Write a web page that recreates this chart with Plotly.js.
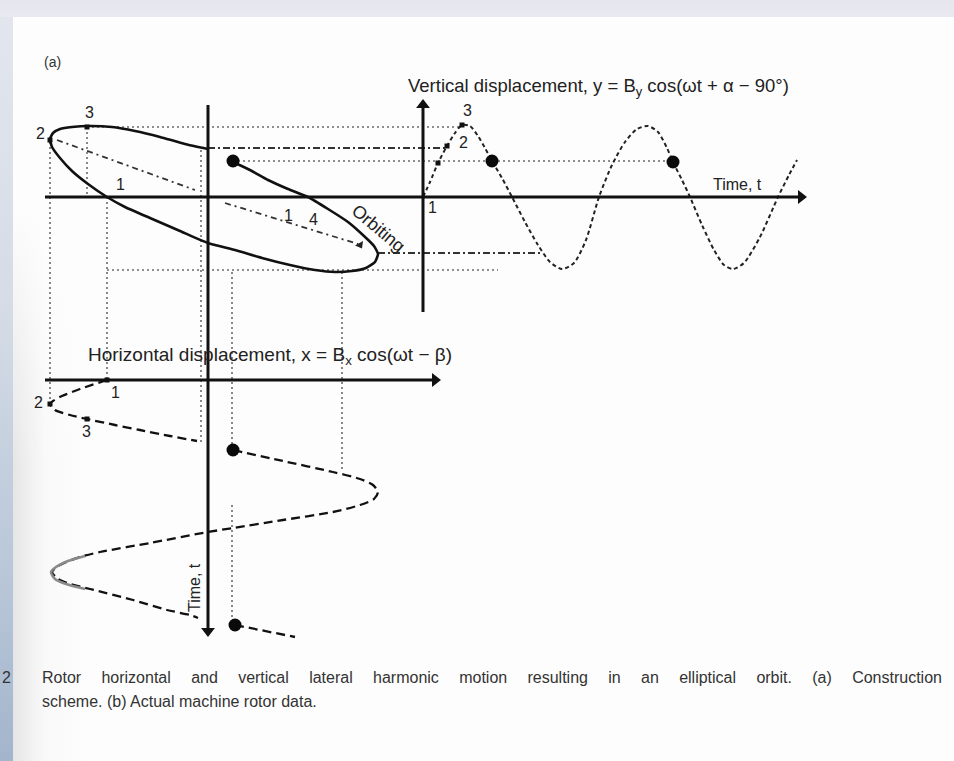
<!DOCTYPE html>
<html>
<head>
<meta charset="utf-8">
<script src="https://cdn.plot.ly/plotly-3.0.1.min.js"></script>
<style>
  html, body { margin: 0; padding: 0; width: 954px; height: 761px; overflow: hidden; }
  body {
    position: relative;
    background:
      linear-gradient(#e6e6ef, #e9e9f1) left top / 954px 17px no-repeat,
      linear-gradient(to bottom, #e3e6ee 0%, #d5dce6 40%, #b9c7d8 75%, #a3b5cc 100%) left top / 13px 761px no-repeat,
      #fdfdfd;
  }
  /* grey shading of the page near the spine, fading in towards the bottom */
  #shade {
    position: absolute; left: 13px; top: 17px; width: 80px; height: 744px;
    background: linear-gradient(to right, rgba(210,210,212,0.55), rgba(240,240,240,0.25) 40%, rgba(255,255,255,0) 100%);
    -webkit-mask-image: linear-gradient(to bottom, rgba(0,0,0,0) 25%, rgba(0,0,0,1) 60%);
    mask-image: linear-gradient(to bottom, rgba(0,0,0,0) 25%, rgba(0,0,0,1) 60%);
  }
  #chart { position: absolute; left: 0; top: 0; width: 954px; height: 761px; }
</style>
</head>
<body>
<div id="shade"></div>
<div id="chart"></div>
<script>
// Elliptical orbit (page units, y grows downward), traced from the point
// marker around to where the arc meets the vertical axis.
const orbitX = [233, 250, 268, 288, 308, 328, 348, 364, 374, 378, 375, 366, 352, 335, 315, 290, 262, 235, 208, 180, 150, 125, 107, 88, 72, 60, 52, 50, 53, 60, 72, 90, 112, 135, 160, 185, 208];
const orbitY = [162, 170, 180, 189, 197, 209, 222, 236, 246, 254, 262, 268, 271, 272, 270, 265, 258, 250, 243, 231, 218, 207, 197, 184, 171, 158, 147, 139, 133, 129, 127, 126, 127, 131, 137, 144, 149];

// Major axis of the orbit (dash-dot), two pieces either side of the centre
const majorAxisX = [57, 195, null, 225, 358];
const majorAxisY = [140, 190, null, 203, 244];

// Vertical displacement against time (time runs to the right)
const vertT = [423, 430, 438, 447, 455, 462, 470, 478, 485, 492, 502, 512, 525, 538, 550, 562, 574, 586, 599, 612, 625, 637, 648, 658, 667, 673, 682, 690, 702, 714, 724, 733, 744, 760, 778, 789, 797];
const vertY = [197, 182, 163, 146, 133, 125, 126, 136, 148, 161, 178, 197, 222, 245, 262, 269, 263, 240, 197, 165, 142, 129, 126, 132, 148, 162, 180, 197, 225, 250, 265, 269, 263, 237, 197, 175, 160];

// Horizontal displacement against time (time runs downward), three pieces
const horizAX = [107, 80, 62, 53, 50, 55, 70, 87, 115, 140, 170, 197];
const horizAY = [380, 389, 396, 401, 404, 410, 415, 419, 425, 430, 436, 441];
const horizBX = [233, 283, 333, 360, 373, 378, 374, 360, 333, 283, 233, 208, 150, 100, 80, 60, 52, 58, 67, 90, 133, 167, 190, 198];
const horizBY = [450, 461, 472, 479, 485, 492, 499, 505, 512, 520, 528, 532, 543, 552, 557, 565, 572, 579, 583, 589, 600, 610, 615, 618];
const horizCX = [235, 295];
const horizCY = [625, 637];
// Faint solid stretch around the left turning point of the second swing
const turnX = [85, 68, 56, 51, 55, 66, 85];
const turnY = [556, 561, 567, 572, 579, 584, 589];

// Projection guides: [x0, y0, x1, y1]
const dottedGuides = [
  [87, 127, 462, 127],
  [233, 161, 673, 161],
  [107, 270, 498, 270],
  [50, 142, 50, 404],
  [87, 127, 87, 197],
  [107, 197, 107, 380],
  [201, 150, 201, 442],
  [342, 272, 342, 470],
  [232, 272, 232, 448],
  [232, 505, 232, 623]
];
const dashDotGuides = [
  [208, 148, 447, 148],
  [378, 253, 540, 253]
];

// Reference axes: [x0, y0, x1, y1]
const axes = [
  [45, 197, 800, 197],   // orbit horizontal axis / time axis of the vertical motion
  [208, 105, 208, 630],  // orbit vertical axis / time axis of the horizontal motion
  [423, 312, 423, 108],  // vertical displacement axis
  [45, 380, 434, 380]    // horizontal displacement axis
];
const arrowTipX = [801, 208, 423, 435];
const arrowTipY = [197, 631, 105, 380];
const arrowSymbols = ['triangle-right', 'triangle-down', 'triangle-up', 'triangle-right'];

// Phase points (large dots)
const phaseX = [233, 492, 673, 233, 235];
const phaseY = [161, 161, 162, 450, 625];

// Numbered steps of the construction
const stepX = [87, 50, 462, 447, 438, 107, 50, 87];
const stepY = [127, 140, 125, 146, 163, 380, 404, 419];

const labelText = ['3', '2', '1', '3', '2', '1', '1', '2', '3', '1', '4'];
const labelX = [89, 40, 120, 467, 463, 432, 115, 38, 86, 288, 313];
const labelY = [112, 133, 184, 110, 142, 207, 392, 402, 431, 215, 219];

function segTrace(list, color, width, dash) {
  const x = [], y = [];
  list.forEach(s => { x.push(s[0], s[2], null); y.push(s[1], s[3], null); });
  return { type: 'scatter', mode: 'lines', x, y, hoverinfo: 'skip',
           line: { color, width, dash }, showlegend: false };
}
function curve(x, y, color, width, dash, shape, smoothing) {
  return { type: 'scatter', mode: 'lines', x, y, hoverinfo: 'skip', showlegend: false,
           line: { color, width, dash: dash || 'solid', shape: shape || 'spline', smoothing: smoothing || 0.7 } };
}

const traces = [
  segTrace(dottedGuides, '#6a6a6a', 1.6, '2px,3px'),
  segTrace(dashDotGuides, '#333', 1.8, '7px,3px,2px,3px'),
  curve(majorAxisX, majorAxisY, '#333', 1.8, '6px,4px,2px,4px', 'linear'),
  curve(orbitX, orbitY, '#111', 2.6, 'solid', 'spline', 0.5),
  curve(vertT, vertY, '#222', 2, '4px,3px'),
  curve(horizAX, horizAY, '#111', 2.3, '9px,5px'),
  curve(horizBX, horizBY, '#111', 2.3, '9px,5px'),
  curve(horizCX, horizCY, '#111', 2.3, '9px,5px', 'linear'),
  curve(turnX, turnY, '#8a8a8a', 2.6),
  segTrace(axes, '#111', 3, 'solid'),
  { type: 'scatter', mode: 'markers', x: arrowTipX, y: arrowTipY, hoverinfo: 'skip', showlegend: false,
    marker: { symbol: arrowSymbols, size: 12, color: '#111' } },
  { type: 'scatter', mode: 'markers', x: [360], y: [245], hoverinfo: 'skip', showlegend: false,
    marker: { symbol: 'triangle-down', size: 8, color: '#222', angle: -30 } },
  { type: 'scatter', mode: 'markers', x: stepX, y: stepY, hoverinfo: 'skip', showlegend: false,
    marker: { symbol: 'square', size: 5, color: '#111' } },
  { type: 'scatter', mode: 'markers', x: phaseX, y: phaseY, hoverinfo: 'skip', showlegend: false,
    marker: { symbol: 'circle', size: 13, color: '#0a0a0a' } }
];

const font = 'Liberation Sans, Arial, sans-serif';
const annotations = labelText.map((t, i) => ({
  x: labelX[i], y: labelY[i], text: t, showarrow: false,
  xanchor: 'center', yanchor: 'middle', font: { family: font, size: 16, color: '#222' }
}));

const captionLines = [
  'Rotor horizontal and vertical lateral harmonic motion resulting in an elliptical orbit. (a) Construction',
  'scheme. (b) Actual machine rotor data.'
];

annotations.push(
  { x: 52, y: 62, text: '(a)', showarrow: false, xanchor: 'center', yanchor: 'middle',
    font: { family: font, size: 14, color: '#333' } },
  { x: 406, y: 87, text: 'Vertical displacement, y = B<sub>y</sub> cos(ωt + α − 90°)', showarrow: false,
    xanchor: 'left', yanchor: 'middle', font: { family: font, size: 18.5, color: '#222' } },
  { x: 711, y: 184, text: 'Time, t', showarrow: false, xanchor: 'left', yanchor: 'middle',
    font: { family: font, size: 16, color: '#222' } },
  { x: 378, y: 228, text: 'Orbiting', showarrow: false, textangle: 40, xanchor: 'center', yanchor: 'middle',
    font: { family: font, size: 18, color: '#222' } },
  { x: 86, y: 356, text: 'Horizontal displacement, x = B<sub>x</sub> cos(ωt − β)', showarrow: false,
    xanchor: 'left', yanchor: 'middle', font: { family: font, size: 19, color: '#222' } },
  { x: 194, y: 588, text: 'Time, t', showarrow: false, textangle: -90, xanchor: 'center', yanchor: 'middle',
    font: { family: font, size: 16, color: '#222' } },
  { x: 6, y: 677, text: '2', showarrow: false, xanchor: 'center', yanchor: 'middle',
    font: { family: font, size: 16, color: '#333' } },
  { x: 40, y: 677, text: captionLines[0],
    showarrow: false, xanchor: 'left', yanchor: 'middle', font: { family: font, size: 16, color: '#333' } },
  { x: 40, y: 701, text: captionLines[1],
    showarrow: false, xanchor: 'left', yanchor: 'middle', font: { family: font, size: 16, color: '#333' } }
);

const layout = {
  width: 954, height: 761,
  margin: { l: 0, r: 0, t: 0, b: 0, pad: 0 },
  paper_bgcolor: 'rgba(0,0,0,0)', plot_bgcolor: 'rgba(0,0,0,0)',
  xaxis: { range: [0, 954], visible: false, fixedrange: true },
  yaxis: { range: [761, 0], visible: false, fixedrange: true },
  showlegend: false,
  annotations
};

Plotly.newPlot('chart', traces, layout, { staticPlot: true, displayModeBar: false }).then(gd => {
  // The first caption line is set justified: keep its left edge and widen
  // the word gaps until it fills the measure.
  const lineWidth = 900;
  gd.querySelectorAll('.annotation-text').forEach(el => {
    if (el.textContent === captionLines[0]) {
      const natural = el.getComputedTextLength();
      const centre = parseFloat(el.getAttribute('x')) || 0;
      const gaps = captionLines[0].split(' ').length - 1;
      el.setAttribute('text-anchor', 'start');
      el.setAttribute('x', (centre - natural / 2).toFixed(2));
      el.style.wordSpacing = ((lineWidth - natural) / gaps).toFixed(2) + 'px';
    }
  });
});
</script>
</body>
</html>
